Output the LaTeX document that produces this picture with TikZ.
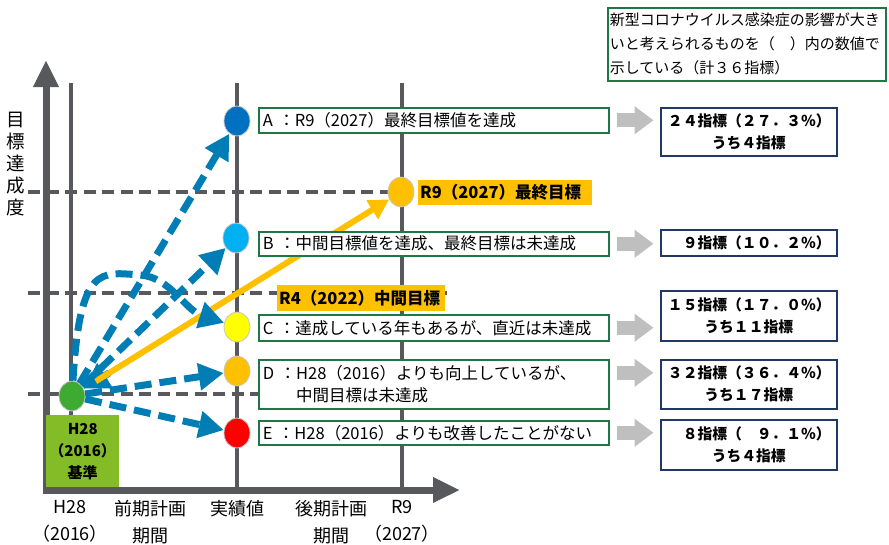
\documentclass[tikz,border=0pt]{standalone}
\usepackage{fontspec}
\setmainfont{Noto Sans CJK JP}
\usetikzlibrary{arrows.meta,shapes.geometric,calc}
\definecolor{axisgray}{RGB}{88,89,93}
\definecolor{arrblue}{RGB}{0,125,181}
\definecolor{colA}{RGB}{0,112,192}
\definecolor{colB}{RGB}{0,176,240}
\definecolor{colC}{RGB}{255,255,0}
\definecolor{colD}{RGB}{255,192,0}
\definecolor{colE}{RGB}{255,0,0}
\definecolor{colH}{RGB}{63,170,50}
\definecolor{colBase}{RGB}{132,188,40}
\definecolor{boxgreen}{RGB}{30,120,70}
\definecolor{navy}{RGB}{31,56,100}
\definecolor{arrgray}{RGB}{191,191,191}
\begin{document}
\begin{tikzpicture}[x=1pt,y=-1pt,
  vline/.style={axisgray, line width=3.5pt},
  hdash/.style={axisgray, line width=3.5pt, dash pattern=on 12pt off 6.5pt},
  axisarrow/.style={axisgray, line width=7pt, -{Triangle[length=27pt,width=24pt]}},
  dot/.style={ellipse, minimum width=26pt, minimum height=30pt, inner sep=0pt, draw=gray!45, line width=0.8pt},
  bluedash/.style={arrblue, line width=7pt, dash pattern=on 17pt off 8pt, -{Triangle[length=25pt,width=26pt]}},
  bluesolid/.style={arrblue, line width=7pt, -{Triangle[length=25pt,width=28pt]}},
  yelarrow/.style={colD, line width=6pt, -{Triangle[length=20pt,width=21pt]}},
  grayarr/.style={arrgray, line width=14pt, -{Triangle[length=19pt,width=27pt]}},
  gbox/.style={draw=boxgreen, line width=1.5pt, fill=white, anchor=north west, minimum width=350pt, text width=342pt, inner xsep=4pt, inner ysep=0pt, align=left, font=\fontsize{16.5}{22}\selectfont},
  rbox/.style={draw=navy, line width=1.5pt, fill=white, anchor=north west, minimum width=176pt, text width=164pt, inner xsep=6pt, inner ysep=0pt, align=center, font=\bfseries\fontsize{14.8}{22}\selectfont},
  olabel/.style={fill=colD, anchor=north west, inner xsep=2pt, inner ysep=0pt, align=left, font=\bfseries\fontsize{16.5}{20}\selectfont},
  axlab/.style={align=center, font=\fontsize{18}{27}\selectfont, anchor=north, inner sep=0pt}
]
\useasboundingbox (0,0) rectangle (889,544);
% grid lines
\draw[hdash] (28,192) -- (390,192);
\draw[hdash] (28,293) -- (452,293);
\draw[hdash] (28,394) -- (258,394);
\draw[vline] (71,83) -- (71,490);
\draw[vline] (237,83) -- (237,490);
\draw[vline] (402,83) -- (402,490);
% axes
\coordinate (yb) at (46,494);
\coordinate (yt) at (46,60);
\coordinate (xl) at (43,490);
\coordinate (xr) at (460,490);
\draw[axisarrow] (yb) -- (yt);
\draw[axisarrow] (xl) -- (xr);
% axis label
\node[align=center, font=\fontsize{18.5}{22}\selectfont, inner sep=0pt] (ylab) at (16,164) {目\\標\\達\\成\\度};
% base label
\node[fill=colBase, anchor=north west, minimum width=73pt, minimum height=72pt, inner sep=0pt, align=center, font=\bfseries\fontsize{15}{22}\selectfont] (base) at (46,415) {H28\\（2016）\\基準};
% dots
\node[dot, fill=colA] (cA) at (237,121) {};
\node[dot, fill=colD] (cR9) at (401,192) {};
\node[dot, fill=colB] (cB) at (236,238) {};
\node[dot, fill=colC] (cC) at (237,327) {};
\node[dot, fill=colD] (cD) at (237,371) {};
\node[dot, fill=colE] (cE) at (237,433) {};
\node[dot, fill=colH] (h28) at (72,396) {};
% arrows
\coordinate (hb) at ($(h28)!44pt!(cR9)$);
\draw[bluesolid] (hb) -- (h28);
\draw[yelarrow, shorten <=14pt] (h28) -- (cR9);
\draw[bluedash] (h28) -- (cA);
\draw[bluedash] (h28) -- (cB);
\draw[bluedash] (h28) .. controls (80,265) and (100,272) .. (140,275) .. controls (170,277) and (185,310) .. (cC);
\draw[bluedash] (h28) -- (cD);
\draw[bluedash] (h28) -- (cE);
% goal labels
\node[olabel, minimum width=174pt, minimum height=25pt, text width=170pt] (lR9) at (418,180) {R9（2027）最終目標};
\node[olabel, minimum width=168pt, minimum height=26pt, text width=164pt] (lR4) at (277,285) {R4（2022）中間目標};
% category boxes
\node[gbox, minimum height=25pt] (bA) at (258,107) {A ：R9（2027）最終目標値を達成};
\node[gbox, minimum height=24pt] (bB) at (258,231) {B ：中間目標値を達成、最終目標は未達成};
\node[gbox, minimum height=26pt] (bC) at (258,314) {C ：達成している年もあるが、直近は未達成};
\node[gbox, minimum height=49pt] (bD) at (258,359) {D ：H28（2016）よりも向上しているが、\\\phantom{D ：}中間目標は未達成};
\node[gbox, minimum height=24pt] (bE) at (258,420) {E ：H28（2016）よりも改善したことがない};
% result boxes
\node[rbox, minimum height=48pt] (rA) at (660,107) {\hfill ２４指標（２７．３％）\\うち４指標};
\node[rbox, minimum height=26pt] (rB) at (660,229) {\hfill ９指標（１０．２％）};
\node[rbox, minimum height=50pt] (rC) at (660,290) {\hfill １５指標（１７．０％）\\うち１１指標};
\node[rbox, minimum height=49pt] (rD) at (660,359) {\hfill ３２指標（３６．４％）\\うち１７指標};
\node[rbox, minimum height=50pt] (rE) at (660,419) {\hfill ８指標（　９．１％）\\うち４指標};
% gray arrows
\draw[grayarr] ([xshift=7pt]bA.east) -- ([xshift=44pt]bA.east);
\draw[grayarr] ([xshift=7pt]bB.east) -- ([xshift=44pt]bB.east);
\draw[grayarr] ([xshift=7pt]bC.east) -- ([xshift=44pt]bC.east);
\draw[grayarr] ([xshift=7pt,yshift=11.5pt]bD.east) -- ([xshift=44pt,yshift=11.5pt]bD.east);
\draw[grayarr] ([xshift=7pt]bE.east) -- ([xshift=44pt]bE.east);
% note
\node[draw=boxgreen, line width=1.5pt, anchor=north west, minimum width=278pt, minimum height=73pt, text width=274pt, inner xsep=2pt, inner ysep=0pt, align=left, font=\fontsize{15}{24}\selectfont] (note) at (607,7) {新型コロナウイルス感染症の影響が大き\\いと考えられるものを（　）内の数値で\\示している（計３６指標）};
% axis tick labels
\node[axlab] (t1) at (70,500) {H28\\（2016）};
\node[axlab] (t2) at (150,500) {前期計画\\期間};
\node[axlab] (t3) at (237,500) {実績値};
\node[axlab] (t4) at (331,500) {後期計画\\期間};
\node[axlab] (t5) at (402,500) {R9\\（2027）};
\end{tikzpicture}
\end{document}
